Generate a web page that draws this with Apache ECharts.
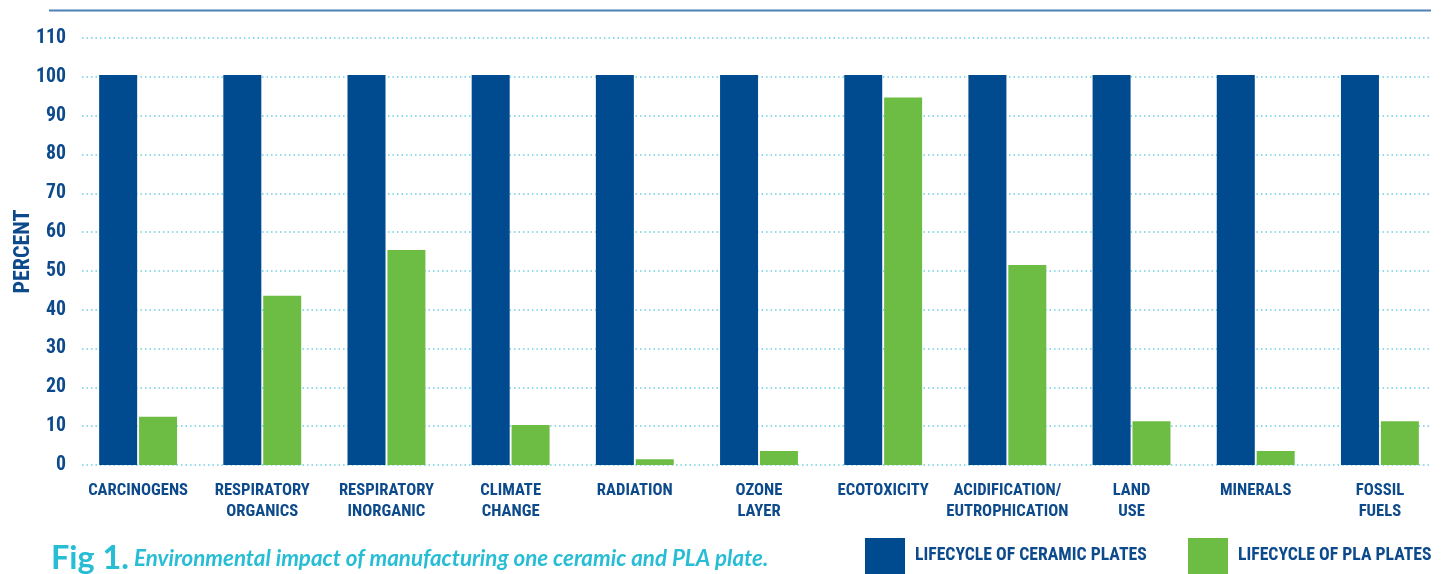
<!DOCTYPE html>
<html>
<head>
<meta charset="utf-8">
<script src="https://cdn.jsdelivr.net/npm/echarts@6/dist/echarts.min.js"></script>
<style>html,body{margin:0;padding:0;background:#fff;}#c{width:1442px;height:574px;}</style>
</head>
<body>
<div id="c"></div>
<script>
const categories = ["CARCINOGENS", "RESPIRATORY\nORGANICS", "RESPIRATORY\nINORGANIC", "CLIMATE\nCHANGE", "RADIATION", "OZONE\nLAYER", "ECOTOXICITY", "ACIDIFICATION/\nEUTROPHICATION", "LAND\nUSE", "MINERALS", "FOSSIL\nFUELS"];
const ceramicValues = [100.5, 100.5, 100.5, 100.5, 100.5, 100.5, 100.5, 100.5, 100.5, 100.5, 100.5];
const plaValues = [12.4, 43.6, 55.4, 10.3, 1.5, 3.6, 94.7, 51.5, 11.3, 3.6, 11.3];
const seriesNames = ["LIFECYCLE OF CERAMIC PLATES", "LIFECYCLE OF PLA PLATES"];
const yTicks = { min: 0, max: 110, interval: 10 };
const yAxisTitle = "PERCENT";
const captionLead = "Fig 1.";
const captionText = "Environmental impact of manufacturing one ceramic and PLA plate.";

const NARROW = '"Roboto Condensed", "Noto Sans Condensed", "Open Sans Condensed", "Liberation Sans Narrow", "DejaVu Sans Condensed", sans-serif';
const CAP = 'Lato, "Open Sans", sans-serif';
const DARK = '#0d4a8c';

const mctx = document.createElement('canvas').getContext('2d');
function fit(text, target, weight, style, family, lo, hi) {
  mctx.font = style + ' ' + weight + ' 100px ' + family;
  const w = mctx.measureText(text).width;
  return Math.max(lo, Math.min(hi, 100 * target / w));
}
const catSize = fit('CARCINOGENS', 100, 'bold', 'normal', NARROW, 12, 22);
const ySize = fit('100', 30, 'bold', 'normal', NARROW, 14, 24);
const nameSize = fit(yAxisTitle, 84, 'bold', 'normal', NARROW, 14, 26);
const legSize = fit(seriesNames[0], 232, 'bold', 'normal', NARROW, 14, 24);
const figSize = fit(captionLead, 78, 'bold', 'normal', CAP, 20, 34);
const capSize = fit(captionText, 625, 'normal', 'italic', CAP, 14, 24);

const chart = echarts.init(document.getElementById('c'), null, { renderer: 'canvas' });
const legendText = { fontFamily: NARROW, fontWeight: 'bold', fontSize: legSize, color: DARK, padding: [0, 0, 0, 5] };
chart.setOption({
  animation: false,
  backgroundColor: '#ffffff',
  graphic: [{
    type: 'line', shape: { x1: 49, y1: 10.5, x2: 1431, y2: 10.5 },
    style: { stroke: '#4d80b6', lineWidth: 2 }
  }],
  title: {
    left: 46, top: 538,
    text: '{a|' + captionLead + '} {b|' + captionText + '}',
    textStyle: {
      rich: {
        a: { fontFamily: CAP, fontWeight: 'bold', fontSize: figSize, color: '#27bdd5' },
        b: { fontFamily: CAP, fontStyle: 'italic', fontSize: capSize, color: '#27bdd5' }
      }
    }
  },
  legend: [
    { left: 865, top: 538, itemWidth: 40, itemHeight: 36, icon: 'rect', data: [seriesNames[0]], textStyle: legendText, padding: 0 },
    { left: 1188, top: 538, itemWidth: 40, itemHeight: 36, icon: 'rect', data: [seriesNames[1]], textStyle: legendText, padding: 0 }
  ],
  grid: [
    { left: 76, right: 0, top: 38, bottom: 109, outerBoundsMode: 'none' },
    { left: 82, right: 12, top: 38, bottom: 109, outerBoundsMode: 'none' }
  ],
  xAxis: [
    {
      type: 'category', gridIndex: 0, data: categories,
      axisLine: { show: false }, axisTick: { show: false },
      axisLabel: { margin: 15, fontFamily: NARROW, fontWeight: 'bold', fontSize: catSize, lineHeight: 21, color: DARK, interval: 0 }
    },
    { type: 'category', gridIndex: 1, data: categories, show: false }
  ],
  yAxis: [
    {
      type: 'value', gridIndex: 0, min: yTicks.min, max: yTicks.max, interval: yTicks.interval,
      axisLabel: { show: false }, splitLine: { show: false }, axisLine: { show: false }, axisTick: { show: false }
    },
    {
      type: 'value', gridIndex: 1, min: yTicks.min, max: yTicks.max, interval: yTicks.interval,
      name: yAxisTitle, nameLocation: 'middle', nameRotate: 90, nameGap: 48, nameMoveOverlap: false,
      nameTextStyle: { fontFamily: NARROW, fontWeight: 'bold', fontSize: nameSize, color: DARK },
      axisLine: { show: false }, axisTick: { show: false },
      axisLabel: { margin: 16, fontFamily: NARROW, fontWeight: 'bold', fontSize: ySize, color: DARK },
      splitLine: { show: true, lineStyle: { color: '#6fd0e4', width: 1.5, type: [1.5, 3] } }
    }
  ],
  series: [
    { name: seriesNames[0], type: 'bar', xAxisIndex: 0, yAxisIndex: 0, data: ceramicValues, barWidth: 38, barGap: '5%', itemStyle: { color: '#004a8f' }, z: 3 },
    { name: seriesNames[1], type: 'bar', xAxisIndex: 0, yAxisIndex: 0, data: plaValues, barWidth: 38, barGap: '5%', itemStyle: { color: '#6dbd45' }, z: 3 }
  ]
});
</script>
</body>
</html>
